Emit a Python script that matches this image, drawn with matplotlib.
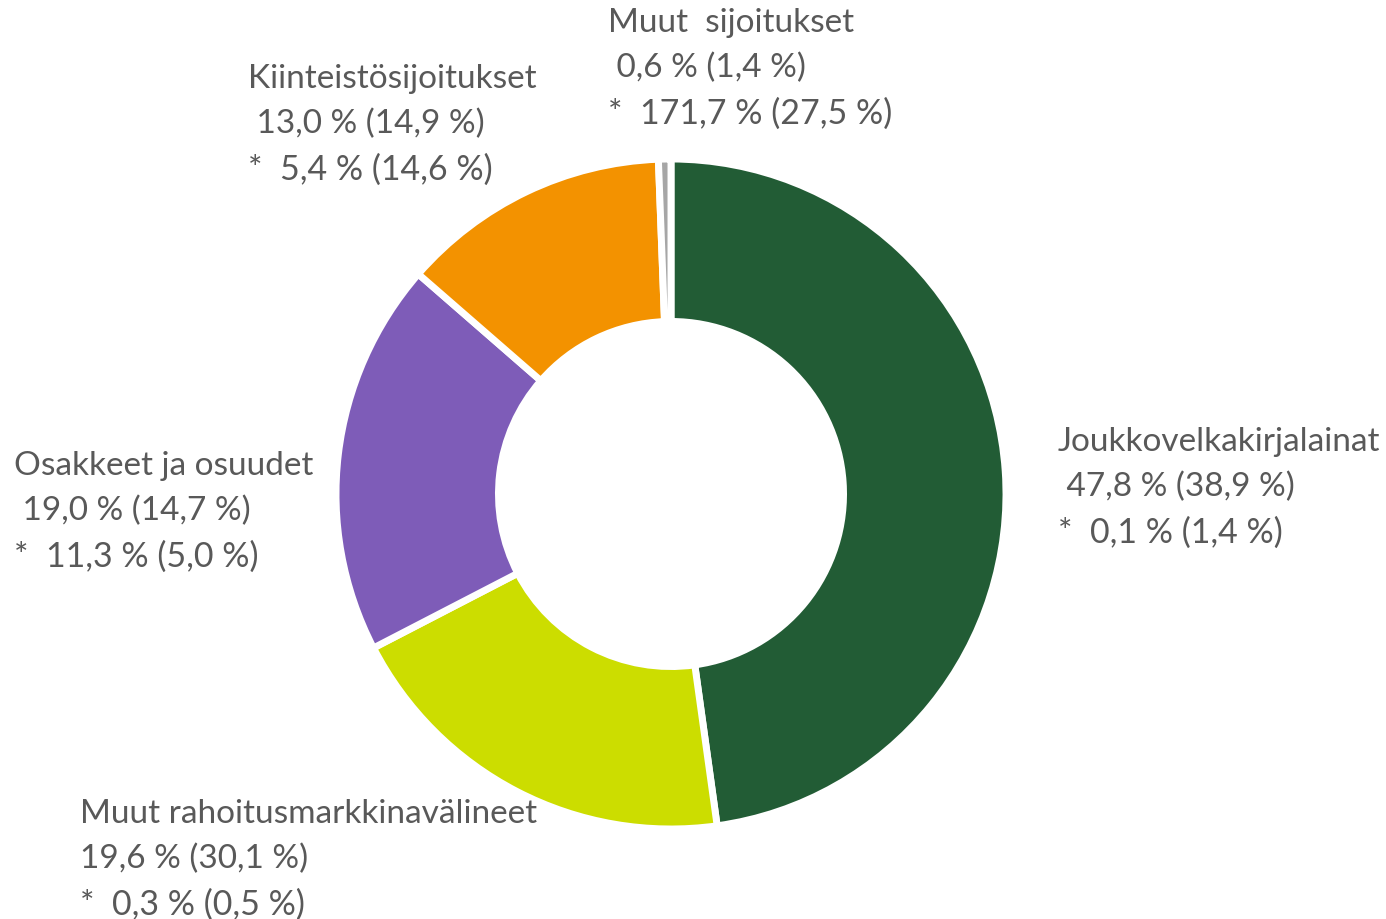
import matplotlib
matplotlib.use("Agg")
import matplotlib.pyplot as plt

categories = ["Joukkovelkakirjalainat", "Muut rahoitusmarkkinavälineet",
              "Osakkeet ja osuudet", "Kiinteistösijoitukset", "Muut  sijoitukset"]
shares = [47.8, 19.6, 19.0, 13.0, 0.6]
line2 = [" 47,8 % (38,9 %)", "19,6 % (30,1 %)", " 19,0 % (14,7 %)",
         " 13,0 % (14,9 %)", " 0,6 % (1,4 %)"]
line3 = ["*  0,1 % (1,4 %)", "*  0,3 % (0,5 %)", "*  11,3 % (5,0 %)",
         "*  5,4 % (14,6 %)", "*  171,7 % (27,5 %)"]
colors = ["#225C35", "#CCDD00", "#7E5CB8", "#F39200", "#A6A6A6"]

W, H = 1386, 920
fig = plt.figure(figsize=(W / 100, H / 100), dpi=100)
ax = fig.add_axes([0, 0, 1, 1])

cx, cy, R = 671, 495, 335
ax.pie(shares, colors=colors, startangle=-90, counterclock=True,
       center=(cx, cy), radius=R, frame=True,
       wedgeprops=dict(width=R * 0.485, edgecolor="white", linewidth=5))
ax.set_xlim(0, W)
ax.set_ylim(H, 0)
ax.set_aspect("equal")
ax.axis("off")

# label positions (top-left, pixels)
pos = [(1058, 427), (80, 799), (14, 451), (248, 64), (608, 8)]
fam = ["Lato", "DejaVu Sans"]
for i, (x, y) in enumerate(pos):
    for j, s in enumerate([categories[i], line2[i], line3[i]]):
        ax.text(x, y + j * 45, s, ha="left", va="top", fontsize=24 if j < 2 else 24.5,
                color="#595959", family=fam)

fig.savefig("out.png", dpi=100)
